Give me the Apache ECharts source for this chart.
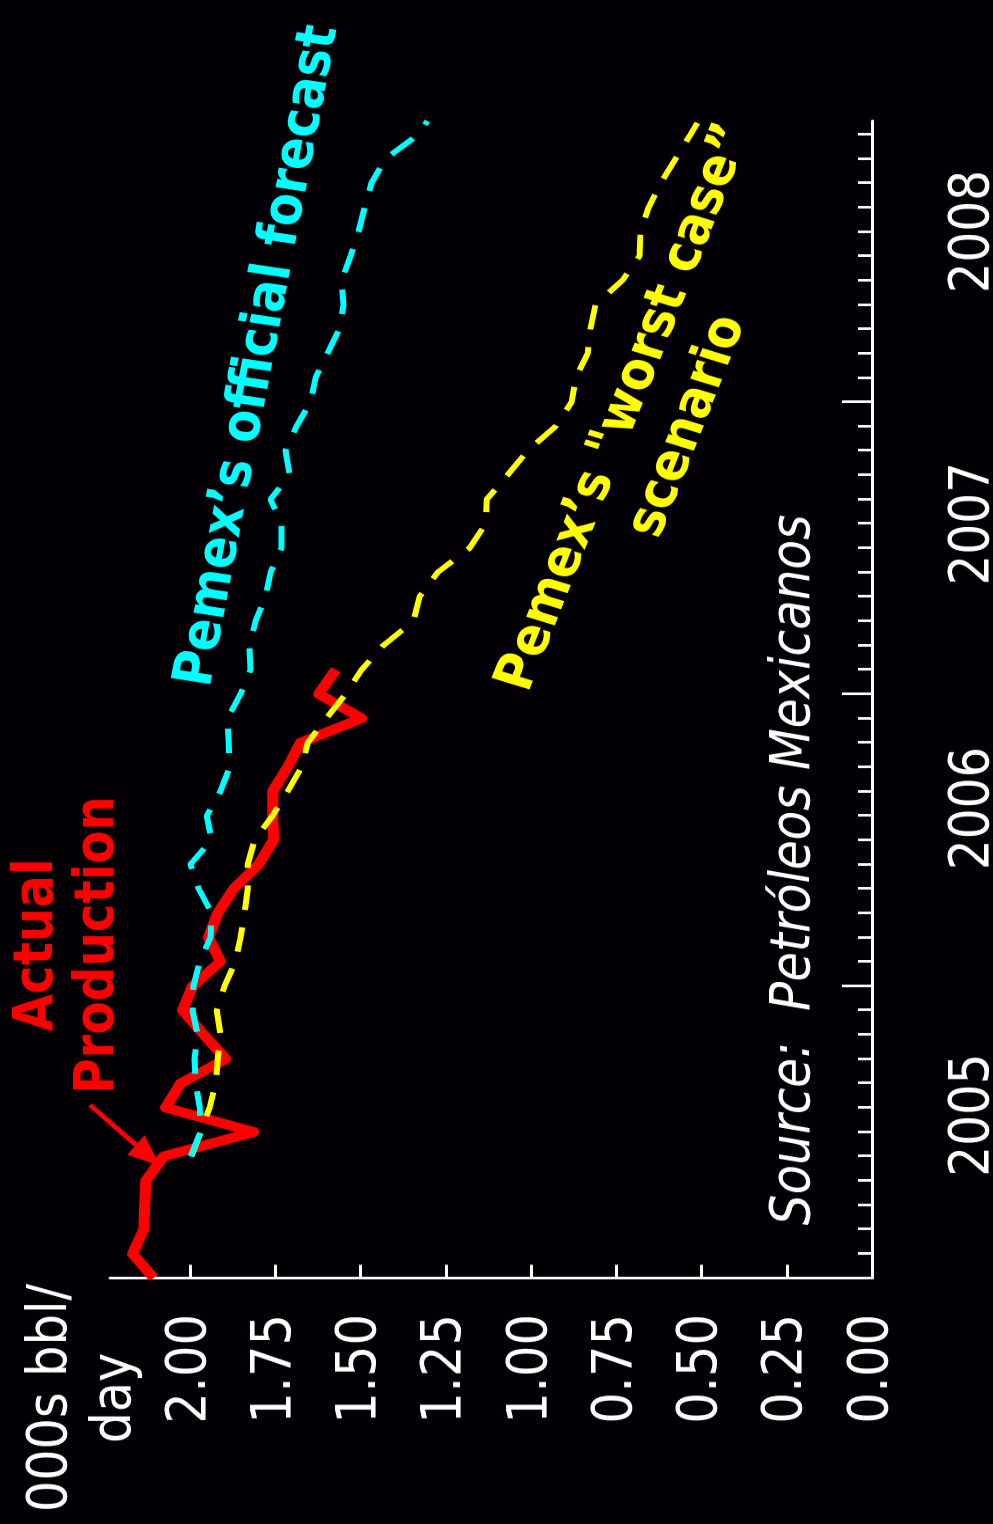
<!DOCTYPE html>
<html><head><meta charset="utf-8">
<script src="https://cdn.jsdelivr.net/npm/echarts@6/dist/echarts.min.js"></script>
<style>
html,body{margin:0;padding:0;width:993px;height:1524px;overflow:hidden;background:#030005;}
#chart{position:absolute;left:0;top:0;width:1732px;height:993px;transform-origin:0 0;transform:translateY(1524px) rotate(-90deg) scaleX(0.879908);}
</style></head><body><div id="chart"></div>
<script>
// ---- data (months counted from the start of 2005 on the time axis) ----
const yearLabels = ['2005', '2006', '2007', '2008'];
const yearLabelPos = [6.7, 19.3, 31.0, 43.0];
const yearTicks = [12, 24, 36];
const valueTicks = [0, 0.25, 0.5, 0.75, 1.0, 1.25, 1.5, 1.75, 2.0];

const actualMonths = [0,1,2,3,4,5,6,7,8,9,10,11,12,13,14,15,16,17,18,19,20,21,22,23,24,25];
const actualValues = [2.107,2.169,2.136,2.133,2.130,2.078,1.814,2.072,2.028,1.896,1.960,2.022,1.993,1.911,1.946,1.919,1.872,1.799,1.755,1.758,1.758,1.714,1.676,1.497,1.623,1.573];

const officialMonths = [5,6,7,8,9,10,11,12,13,14,15,16,17,18,19,20,21,22,23,24,25,26,27,28,29,30,31,32,33,34,35,36,37,38,39,40,41,42,43,44,45,46,47,47.55];
const officialValues = [1.999,1.969,1.972,1.984,1.987,1.978,1.993,1.990,1.972,1.940,1.937,1.975,1.999,1.937,1.951,1.911,1.884,1.887,1.890,1.852,1.823,1.826,1.808,1.779,1.764,1.732,1.732,1.764,1.708,1.720,1.688,1.647,1.632,1.597,1.562,1.550,1.556,1.529,1.506,1.488,1.468,1.427,1.330,1.304];

const worstMonths = [5,6,7,8,9,10,11,12,13,14,15,16,17,18,19,20,21,22,23,24,25,26,27,28,29,30,31,32,33,34,35,36,37,38,39,40,41,42,43,44,45,46,47,47.47];
const worstValues = [1.996,1.969,1.943,1.925,1.919,1.911,1.922,1.899,1.867,1.852,1.840,1.831,1.831,1.811,1.758,1.714,1.673,1.655,1.600,1.544,1.497,1.433,1.345,1.327,1.274,1.180,1.133,1.130,1.069,1.010,0.928,0.881,0.869,0.834,0.826,0.811,0.732,0.682,0.679,0.655,0.620,0.576,0.532,0.512];

// ---- layout helpers (chart drawn unrotated, then turned by CSS) ----
const S = 1524 / 1732;
const P = (x, y) => [(1524 - y) / S, x];   // page point -> chart point
const monthTicks = [];
for (let m = 1; m < 48; m++) if (m % 12 !== 0) monthTicks.push(m);

const FONT = 'DejaVu Sans';
const WHITE = '#ffffff';

function txt(pos, text, color, size, opts) {
  const p = P(pos[0], pos[1]);
  return {
    type: 'text', x: p[0], y: p[1], rotation: (opts && opts.rot) || 0, silent: true,
    style: {
      text: text, fill: color, fontSize: size, fontFamily: FONT,
      fontWeight: (opts && opts.weight) || 'normal', fontStyle: (opts && opts.style) || 'normal',
      lineHeight: (opts && opts.lh) || size * 1.2,
      align: 'center', verticalAlign: 'middle', textAlign: 'center', textVerticalAlign: 'middle'
    }
  };
}

// arrow (page coordinates)
const aStart = [90, 1105], aTip = [160, 1166];
const dx = aTip[0] - aStart[0], dy = aTip[1] - aStart[1], dl = Math.hypot(dx, dy);
const ux = dx / dl, uy = dy / dl;
const base = [aTip[0] - 32 * ux, aTip[1] - 32 * uy];
const c1 = [base[0] - 13 * uy, base[1] + 13 * ux], c2 = [base[0] + 13 * uy, base[1] - 13 * ux];
const pa = P(aStart[0], aStart[1]), pb = P(base[0], base[1]);

const chart = echarts.init(document.getElementById('chart'), null, { width: 1732, height: 993, renderer: 'canvas' });
chart.setOption({
  backgroundColor: '#030005',
  animation: false,
  grid: { left: 246 / S, right: 121 / S, top: 110, bottom: 121, containLabel: false, outerBoundsMode: 'none' },
  xAxis: [{
    type: 'value', min: 0, max: 47.55, position: 'bottom',
    axisLine: { show: true, lineStyle: { color: WHITE, width: 3 } },
    axisTick: { show: true, inside: true, length: 30, customValues: yearTicks, lineStyle: { color: WHITE, width: 3 } },
    axisLabel: {
      show: true, customValues: yearLabelPos, color: WHITE, fontSize: 55, fontFamily: FONT, margin: 74,
      formatter: function (v) {
        let best = 0;
        yearLabelPos.forEach((p, i) => { if (Math.abs(p - v) < Math.abs(yearLabelPos[best] - v)) best = i; });
        return yearLabels[best];
      }
    },
    splitLine: { show: false }
  }, {
    type: 'value', min: 0, max: 47.55, position: 'bottom',
    axisLine: { show: false },
    axisTick: { show: true, inside: true, length: 14, customValues: monthTicks, lineStyle: { color: WHITE, width: 3 } },
    axisLabel: { show: false },
    splitLine: { show: false }
  }],
  yAxis: {
    type: 'value', min: 0, max: 2.235,
    axisLine: { show: true, lineStyle: { color: WHITE, width: 3 } },
    axisTick: { show: true, inside: true, length: 15, customValues: valueTicks, lineStyle: { color: WHITE, width: 3 } },
    axisLabel: { show: true, customValues: valueTicks, color: WHITE, fontSize: 56, fontFamily: FONT, margin: 41,
      formatter: v => v.toFixed(2) },
    splitLine: { show: false }
  },
  series: [{
    type: 'line', name: 'Actual Production', xAxisIndex: 0, yAxisIndex: 0, z: 2,
    data: actualMonths.map((m, i) => [m, actualValues[i]]),
    symbol: 'none', showSymbol: false, silent: true,
    lineStyle: { color: '#ff0000', width: 11, join: 'round', cap: 'butt' }
  }, {
    type: 'line', name: 'Worst case', xAxisIndex: 0, yAxisIndex: 0, z: 3,
    data: worstMonths.map((m, i) => [m, worstValues[i]]),
    symbol: 'none', showSymbol: false, silent: true,
    lineStyle: { color: '#ffff00', width: 6, type: [28, 20] }
  }, {
    type: 'line', name: 'Official forecast', xAxisIndex: 0, yAxisIndex: 0, z: 4,
    data: officialMonths.map((m, i) => [m, officialValues[i]]),
    symbol: 'none', showSymbol: false, silent: true,
    lineStyle: { color: '#00ffff', width: 6, type: [28, 20] }
  }],
  graphic: { elements: [
    txt([83, 1398], '000s bbl/\nday', WHITE, 56, { lh: 64 }),
    txt([68, 945], 'Actual\nProduction', '#ff0000', 55, { weight: 'bold', lh: 61 }),
    { type: 'line', silent: true, shape: { x1: pa[0], y1: pa[1], x2: pb[0], y2: pb[1] }, style: { stroke: '#ff0000', lineWidth: 5 } },
    { type: 'polygon', silent: true, shape: { points: [P(aTip[0], aTip[1]), P(c1[0], c1[1]), P(c2[0], c2[1])] }, style: { fill: '#ff0000' } },
    txt([259, 356], 'Pemex\u2019s official forecast', '#00ffff', 55, { weight: 'bold', rot: -0.168 }),
    txt([657, 417], 'Pemex\u2019s "worst case\u201d\nscenario', '#ffff00', 55, { weight: 'bold', rot: -0.335, lh: 66 }),
    txt([795, 870], 'Source:  Petr\u00f3leos Mexicanos', WHITE, 55, { style: 'italic' })
  ] }
});
</script></body></html>
